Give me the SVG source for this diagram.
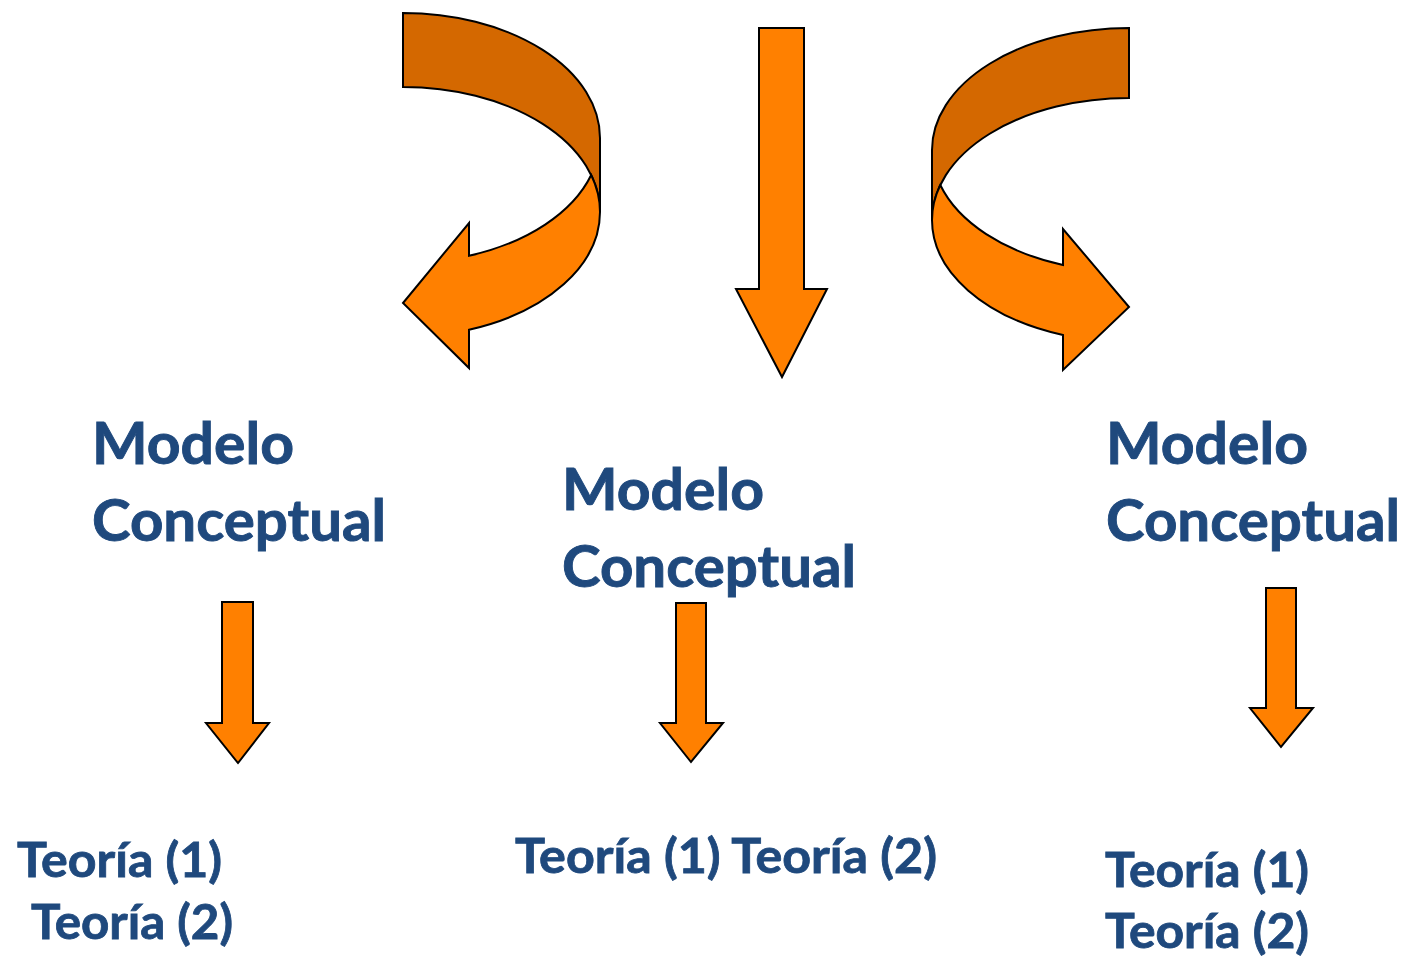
<svg xmlns="http://www.w3.org/2000/svg" width="1407" height="958" viewBox="0 0 1407 958">
<style>
.dark{fill:#D46800;stroke:#000;stroke-width:2;stroke-linejoin:miter}
.light{fill:#FF8000;stroke:#000;stroke-width:2;stroke-linejoin:miter}
.big{font-family:Lato,"Liberation Sans",sans-serif;font-weight:bold;font-size:57px;fill:#1F497D;stroke:#1F497D;stroke-width:0.9}
.small{font-family:Lato,"Liberation Sans",sans-serif;font-weight:bold;font-size:48px;fill:#1F497D;stroke:#1F497D;stroke-width:0.8}
</style>
<rect width="1407" height="958" fill="#fff"/>
<g id="connectors">
<g id="curved-left">
<path class="dark" d="M403,13 A197 125 0 0 1 600,138 L600,212 A197 125 0 0 0 403,87 Z"/>
<path class="light" d="M591.2,175 A197 125 0 0 1 600,212 A197 125 0 0 1 469,329.8 L469,368 L403,303 L469,223 L469,255.8 A197 125 0 0 0 591.2,175 Z"/>
</g>
<g id="curved-right">
<path class="dark" d="M1129,28 A197 122 0 0 0 932,150 L932,220 A197 122 0 0 1 1129,98 Z"/>
<path class="light" d="M940.3,185 A197 122 0 0 0 932,220 A197 122 0 0 0 1063,335 L1063,370 L1129,307 L1063,229 L1063,265 A197 122 0 0 1 940.3,185 Z"/>
</g>
<path id="arrow-center" class="light" d="M759,28 L804,28 L804,289 L827,289 L782,377 L736,289 L759,289 Z"/>
<path id="arrow-left" class="light" d="M222,602 L253,602 L253,723 L269,723 L238,763 L206,723 L222,723 Z"/>
<path id="arrow-mid" class="light" d="M676,603 L706,603 L706,723 L723,723 L691,762 L660,723 L676,723 Z"/>
<path id="arrow-right" class="light" d="M1266,588 L1296,588 L1296,708 L1313,708 L1281,747 L1250,708 L1266,708 Z"/>
</g>
<g id="model-left">
<text class="big" x="92" y="464" textLength="202" lengthAdjust="spacingAndGlyphs">Modelo</text>
<text class="big" x="92" y="541" textLength="294" lengthAdjust="spacingAndGlyphs">Conceptual</text>
</g>
<g id="model-mid">
<text class="big" x="562" y="510" textLength="202" lengthAdjust="spacingAndGlyphs">Modelo</text>
<text class="big" x="562" y="587" textLength="294" lengthAdjust="spacingAndGlyphs">Conceptual</text>
</g>
<g id="model-right">
<text class="big" x="1106" y="464" textLength="202" lengthAdjust="spacingAndGlyphs">Modelo</text>
<text class="big" x="1106" y="541" textLength="294" lengthAdjust="spacingAndGlyphs">Conceptual</text>
</g>
<g id="theory-left">
<text class="small" x="17" y="877" textLength="205" lengthAdjust="spacingAndGlyphs">Teoría (1)</text>
<text class="small" x="31" y="939" textLength="202" lengthAdjust="spacingAndGlyphs">Teoría (2)</text>
</g>
<g id="theory-mid">
<text class="small" x="515" y="873" textLength="422" lengthAdjust="spacingAndGlyphs">Teoría (1) Teoría (2)</text>
</g>
<g id="theory-right">
<text class="small" x="1105" y="887" textLength="204" lengthAdjust="spacingAndGlyphs">Teoría (1)</text>
<text class="small" x="1105" y="948" textLength="204" lengthAdjust="spacingAndGlyphs">Teoría (2)</text>
</g>
</svg>
